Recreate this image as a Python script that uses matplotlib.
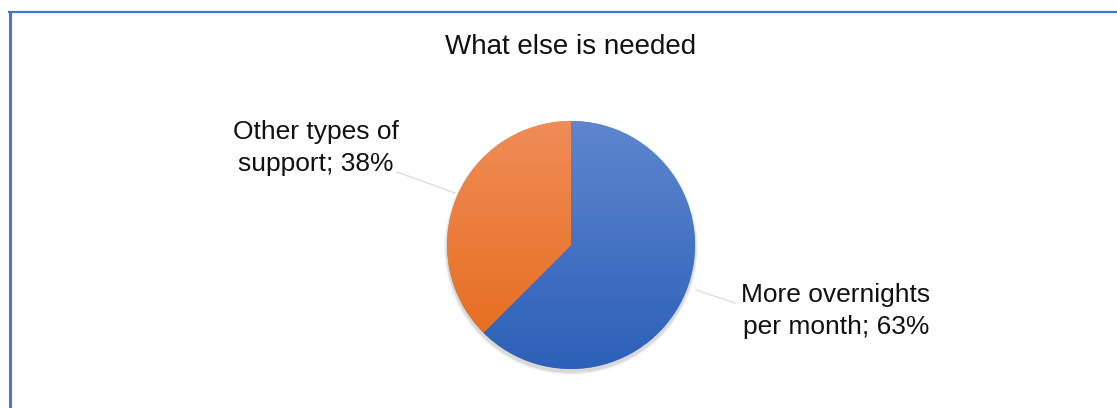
import numpy as np
import matplotlib.pyplot as plt
from matplotlib.colors import LinearSegmentedColormap
from matplotlib.patches import Circle

plt.rcParams['font.family'] = ['Liberation Sans', 'DejaVu Sans']

title = 'What else is needed'
labels = ['More overnights\nper month; 63%', 'Other types of\nsupport; 38%']
values = [62.5, 37.5]
top_colors = ['#5E86CE', '#F08C58']
bottom_colors = ['#2D60B9', '#E56A17']

W, H = 1117, 408
fig = plt.figure(figsize=(W / 100, H / 100), dpi=100)
ax = fig.add_axes([0, 0, 1, 1])

cx, cy, r = 571, 408 - 245, 124

# soft shadow under the pie
for rad, a in [(127, 0.03), (126, 0.05), (125, 0.07)]:
    ax.add_patch(Circle((cx, cy - 3), rad, color='black', alpha=a, lw=0, zorder=0))

wedges, _ = ax.pie(values, startangle=90, counterclock=False, center=(cx, cy),
                   radius=r, colors=top_colors,
                   wedgeprops=dict(linewidth=0))

# vertical gradient fill clipped to each wedge
grad = np.linspace(0, 1, 256).reshape(-1, 1)
for w, c1, c2 in zip(wedges, top_colors, bottom_colors):
    cmap = LinearSegmentedColormap.from_list('g', [c2, c1])
    im = ax.imshow(grad, cmap=cmap, origin='lower', aspect='auto',
                   extent=(cx - r, cx + r, cy - r, cy + r), zorder=2)
    im.set_clip_path(w)

# labels with leader lines
text_pos = [(836, 408 - 311), (316, 408 - 148)]
line_start = [(696, 408 - 290), (455, 408 - 193)]
line_end = [(735, 408 - 303), (397, 408 - 172)]
for lab, tp, ls, le in zip(labels, text_pos, line_start, line_end):
    ax.plot([ls[0], le[0]], [ls[1], le[1]], color='#DDDDDD', lw=1, zorder=1)
    ax.text(tp[0], tp[1], lab, ha='center', va='center', fontsize=19,
            color='#111111', linespacing=1.4)

ax.text(571, 408 - 47, title, ha='center', va='center', fontsize=20, color='#111111')

# chart border (top and left visible)
ax.plot([9.5, 9.5], [0, 396.5], color='#4274D0', lw=2.2, solid_capstyle='butt')
ax.plot([8, W], [396, 396], color='#4274D0', lw=1.6, solid_capstyle='butt')

ax.set_xlim(0, W)
ax.set_ylim(0, H)
ax.axis('off')

fig.savefig('out.png', dpi=100)
